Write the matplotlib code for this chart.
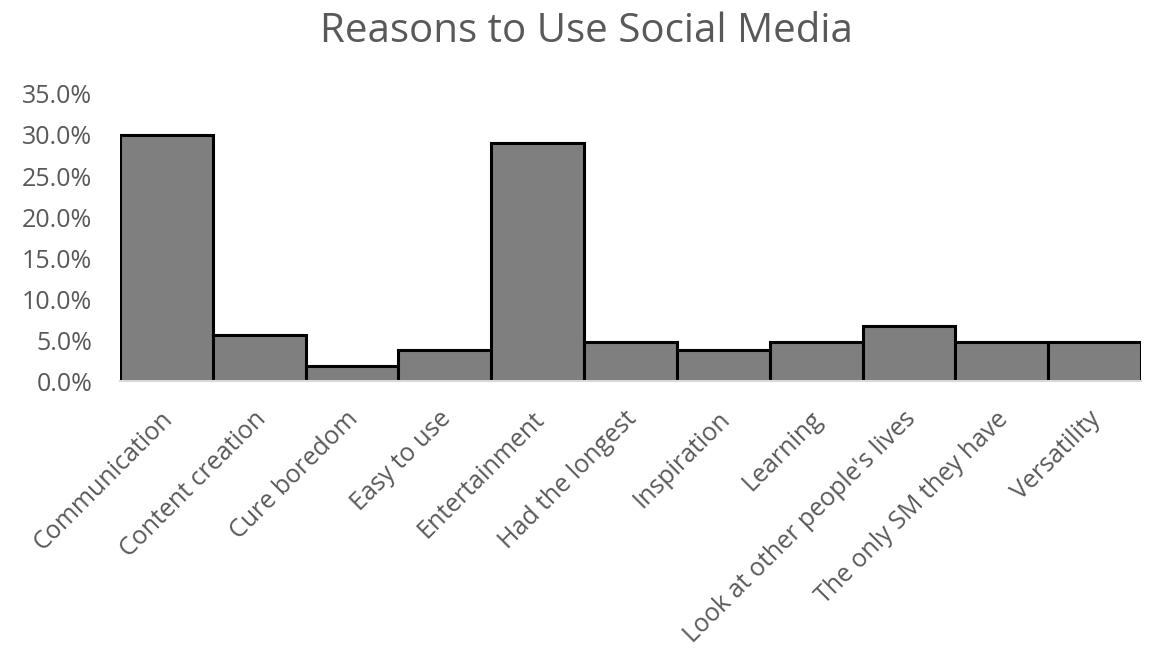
import matplotlib
matplotlib.use("Agg")
import matplotlib.pyplot as plt
import matplotlib.transforms as mtransforms
from matplotlib.ticker import PercentFormatter, MultipleLocator

categories = [
    "Communication", "Content creation", "Cure boredom", "Easy to use",
    "Entertainment", "Had the longest", "Inspiration", "Learning",
    "Look at other people's lives", "The only SM they have", "Versatility",
]
shares = [30.0, 5.7, 1.9, 3.8, 29.0, 4.8, 3.8, 4.8, 6.7, 4.8, 4.8]

text_color = "#595959"
plt.rcParams["font.family"] = ["Open Sans", "DejaVu Sans"]

fig = plt.figure(figsize=(11.53, 6.53), dpi=100)
ax = fig.add_axes([0.104, 0.4158, 0.8856, 0.4405])

x = range(len(categories))
ax.bar(x, shares, width=1.0, color="#7f7f7f", edgecolor="black", linewidth=2.2)

ax.set_xlim(-0.5, len(categories) - 0.5)
ax.set_ylim(0, 35)
ax.yaxis.set_major_locator(MultipleLocator(5))
ax.yaxis.set_major_formatter(PercentFormatter(decimals=1))

for side in ("top", "right", "left"):
    ax.spines[side].set_visible(False)
ax.spines["bottom"].set_color("#d9d9d9")
ax.spines["bottom"].set_linewidth(1.5)

ax.tick_params(axis="y", length=0, labelsize=18, labelcolor=text_color, pad=20)
ax.tick_params(axis="x", length=0, labelsize=18, labelcolor=text_color, pad=18)
ax.set_xticks(list(x))
ax.set_xticklabels(categories, rotation=45, ha="right", rotation_mode="anchor")

shift = mtransforms.ScaledTranslation(-6 / 100, 0, fig.dpi_scale_trans)
for lbl in ax.get_xticklabels():
    lbl.set_transform(lbl.get_transform() + shift)

fig.suptitle("Reasons to Use Social Media", x=0.5087, y=0.982, fontsize=29,
             color=text_color)

fig.savefig("out.png", dpi=100)
